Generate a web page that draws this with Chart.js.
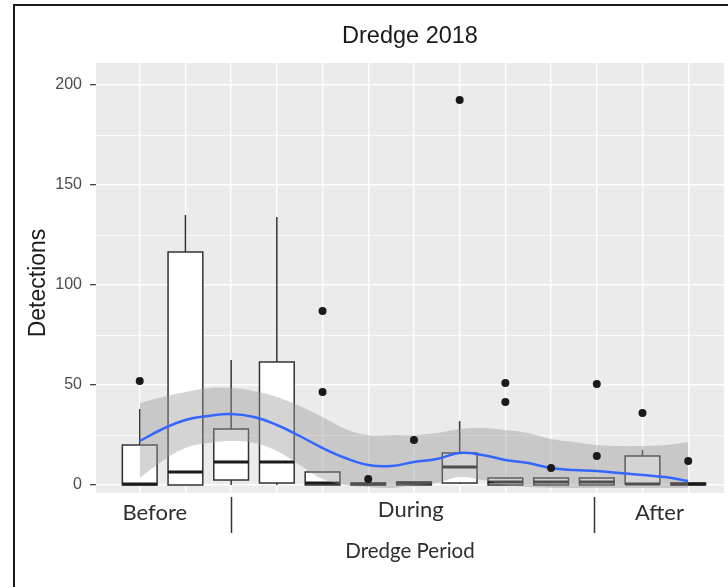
<!DOCTYPE html>
<html>
<head>
<meta charset="utf-8">
<title>Dredge 2018</title>
<script src="https://cdn.jsdelivr.net/npm/chart.js@4.4.1/dist/chart.umd.min.js"></script>
<style>
  html, body { margin: 0; padding: 0; background: #ffffff; overflow: hidden; }
  #wrap { position: relative; width: 728px; height: 587px; }
  #wrap canvas { position: absolute; left: 0; top: 0; }
  #frame {
    position: absolute; left: 13px; top: 4px; right: -4px; bottom: -4px;
    border-left: 2px solid #1c1c1c; border-top: 2px solid #1c1c1c;
    pointer-events: none;
  }
</style>
</head>
<body>
<div id="wrap">
  <canvas id="chart" width="728" height="587"></canvas>
  <div id="frame"></div>
</div>
<script>
// Sampling occasions (1-13), grouped into dredge periods
const groups = [1, 2, 3, 4, 5, 6, 7, 8, 9, 10, 11, 12, 13];
const periodLabels = ['Before', 'During', 'After'];
const yTitle = 'Detections';

// Box-plot summaries of detections per occasion
const whiskerLow  = [0, 0, 0, 0, 0, 0, 0, 0.5, 0, 0, 0, 0, 0];
const q1          = [0, 0, 2.5, 1, 0, 0, 0, 1, 0, 0, 0, 0.5, 0];
const median      = [0.5, 6.5, 11.5, 11.5, 1, 0.5, 1, 9, 1.5, 1.5, 1.5, 0.5, 0.5];
const q3          = [20, 116.5, 28, 61.5, 6.5, 1, 1.5, 16, 3.5, 3.5, 3.5, 14.5, 1];
const whiskerHigh = [38, 135, 62.5, 134, 6.5, 1, 1.5, 32, 3.5, 3.5, 3.5, 17.5, 1];
const outliers    = [[52], [], [], [], [46.5, 87], [3], [22.5], [192.5], [41.5, 51], [8.5], [14.5, 50.5], [36], [12]];

// Loess trend with its confidence band
const trendX     = [1, 1.5, 2, 2.5, 3, 3.5, 4, 4.5, 5, 5.5, 6, 6.5, 7, 7.5, 8, 8.5, 9, 9.5, 10, 10.5, 11, 11.5, 12, 12.5, 13];
const trendFit   = [22, 28, 32.5, 34.5, 35.5, 34, 30, 24.5, 18.5, 13.5, 10, 9.5, 11.5, 13, 16, 15, 12.5, 11, 8.5, 7.5, 7, 6, 5, 4, 2];
const trendUpper = [41, 44, 46.5, 48.5, 48.5, 47, 44, 39.5, 34, 28, 25, 25, 25, 26, 28, 28.5, 27.5, 26, 23, 21.5, 20, 19.5, 19.5, 20, 21.5];
const trendLower = [3.5, 12, 18.5, 21, 22, 21, 17, 10, 3, 0, -1, -1.5, 0, 1, 4, 2.5, 0, -1, -1.5, -1.5, -1.5, -1.5, -1.5, -1.5, -1.5];

// Y-axis ticks (majors labelled, minors only gridded)
const yTicks = [0, 25, 50, 75, 100, 125, 150, 175, 200];
const yLabelled = [0, 50, 100, 150, 200];

// Drawing settings for the annotations around the panel
const periodText = { at: [1.33, 6.93, 12.37], dy: [27, 24, 27] };
const periodBreaks = [3, 10.93];
const BOX_HALF = 0.38;

const pts = (xs, ys) => xs.map((x, i) => ({ x: x, y: ys[i] }));
const outlierPts = outliers.flatMap((vals, i) => vals.map(v => ({ x: groups[i], y: v })));

const panelBg = {
  id: 'panelBg',
  beforeDraw(chart) {
    const { ctx, chartArea: a } = chart;
    ctx.save();
    ctx.fillStyle = '#ebebeb';
    ctx.fillRect(a.left, a.top, a.right - a.left, a.bottom - a.top);
    ctx.restore();
  }
};

const boxes = {
  id: 'boxes',
  beforeDatasetsDraw(chart) {
    const { ctx, chartArea: a } = chart;
    const xs = chart.scales.x, ys = chart.scales.y;
    ctx.save();
    ctx.beginPath();
    ctx.rect(a.left, a.top, a.right - a.left, a.bottom - a.top);
    ctx.clip();
    groups.forEach((g, i) => {
      const cx = xs.getPixelForValue(g);
      const x0 = xs.getPixelForValue(g - BOX_HALF);
      const x1 = xs.getPixelForValue(g + BOX_HALF);
      const yq1 = ys.getPixelForValue(q1[i]);
      const yq3 = ys.getPixelForValue(q3[i]);
      const ylo = ys.getPixelForValue(whiskerLow[i]);
      const yhi = ys.getPixelForValue(whiskerHigh[i]);
      const ymed = ys.getPixelForValue(median[i]);
      ctx.strokeStyle = '#333333';
      ctx.lineWidth = 1.5;
      // whiskers
      ctx.beginPath();
      ctx.moveTo(cx, yq3); ctx.lineTo(cx, yhi);
      ctx.moveTo(cx, yq1); ctx.lineTo(cx, ylo);
      ctx.stroke();
      // box
      ctx.fillStyle = '#ffffff';
      ctx.fillRect(x0, yq3, x1 - x0, yq1 - yq3);
      ctx.strokeRect(x0, yq3, x1 - x0, yq1 - yq3);
      // median
      ctx.strokeStyle = '#1a1a1a';
      ctx.lineWidth = 2.8;
      ctx.beginPath();
      ctx.moveTo(x0, ymed); ctx.lineTo(x1, ymed);
      ctx.stroke();
    });
    ctx.restore();
  }
};

const annotations = {
  id: 'annotations',
  afterDraw(chart) {
    const { ctx, chartArea: a } = chart;
    const xs = chart.scales.x;
    ctx.save();
    // period names under the panel
    ctx.fillStyle = '#2e2e2e';
    ctx.font = '22px Lato, "Open Sans", sans-serif';
    ctx.textAlign = 'center';
    ctx.textBaseline = 'alphabetic';
    periodLabels.forEach((t, i) => {
      ctx.fillText(t, xs.getPixelForValue(periodText.at[i]), a.bottom + periodText.dy[i]);
    });
    // period separators
    ctx.strokeStyle = '#333333';
    ctx.lineWidth = 1.5;
    periodBreaks.forEach(v => {
      const px = Math.round(xs.getPixelForValue(v)) + 0.5;
      ctx.beginPath();
      ctx.moveTo(px, a.bottom + 4);
      ctx.lineTo(px, a.bottom + 40);
      ctx.stroke();
    });
    // y-axis title
    ctx.translate(39, (a.top + a.bottom) / 2 + 5);
    ctx.rotate(-Math.PI / 2);
    ctx.fillStyle = '#1a1a1a';
    ctx.font = '23px "Liberation Sans", Arial, sans-serif';
    ctx.textBaseline = 'middle';
    ctx.fillText(yTitle, 0, 0);
    ctx.restore();
  }
};

new Chart(document.getElementById('chart'), {
  type: 'line',
  data: {
    datasets: [
      {
        label: 'Outliers',
        type: 'scatter',
        data: outlierPts,
        pointRadius: 4,
        pointBackgroundColor: '#1a1a1a',
        pointBorderWidth: 0,
        showLine: false
      },
      {
        label: 'Loess fit',
        data: pts(trendX, trendFit),
        borderColor: '#3366ff',
        borderWidth: 2.5,
        pointRadius: 0,
        tension: 0.4,
        fill: false
      },
      {
        label: 'Upper band',
        data: pts(trendX, trendUpper),
        borderWidth: 0,
        borderColor: 'rgba(0,0,0,0)',
        backgroundColor: 'rgba(153,153,153,0.42)',
        pointRadius: 0,
        tension: 0.4,
        fill: '+1'
      },
      {
        label: 'Lower band',
        data: pts(trendX, trendLower),
        borderWidth: 0,
        borderColor: 'rgba(0,0,0,0)',
        pointRadius: 0,
        tension: 0.4,
        fill: false
      }
    ]
  },
  options: {
    responsive: false,
    animation: false,
    devicePixelRatio: 1,
    layout: { padding: 0 },
    plugins: {
      legend: { display: false },
      tooltip: { enabled: false },
      title: {
        display: true,
        text: 'Dredge 2018',
        fullSize: false,
        color: '#1a1a1a',
        font: { family: '"Liberation Sans", Arial, sans-serif', size: 23.5, weight: 'normal', lineHeight: 1.2 },
        padding: { top: 22.6, bottom: 12.2 }
      }
    },
    scales: {
      x: {
        type: 'linear',
        min: 0.0435,
        max: 13.783,
        afterBuildTicks: s => { s.ticks = groups.map(v => ({ value: v })); },
        afterFit: s => { s.height = 94; },
        ticks: { display: false },
        border: { display: false },
        grid: { color: '#ffffff', lineWidth: 1.4, drawTicks: false },
        title: {
          display: true,
          text: 'Dredge Period',
          color: '#2e2e2e',
          font: { family: 'Lato, "Open Sans", sans-serif', size: 20.5, lineHeight: 1.2 },
          padding: { top: 0, bottom: 23 }
        }
      },
      y: {
        type: 'linear',
        min: -4,
        max: 211,
        afterBuildTicks: s => { s.ticks = yTicks.map(v => ({ value: v })); },
        afterFit: s => { s.width = 96; },
        border: { display: false },
        grid: {
          color: '#ffffff',
          lineWidth: c => (yLabelled.includes(c.tick.value) ? 1.4 : 0.8),
          drawTicks: true,
          tickLength: 6,
          tickWidth: 1.2,
          tickColor: c => (yLabelled.includes(c.tick.value) ? '#333333' : 'rgba(0,0,0,0)')
        },
        ticks: {
          padding: 8,
          color: '#4d4d4d',
          font: { family: '"Liberation Sans", Arial, sans-serif', size: 16 },
          callback: v => (yLabelled.includes(v) ? String(v) : '')
        },
        title: { display: false }
      }
    }
  },
  plugins: [panelBg, boxes, annotations]
});
</script>
</body>
</html>
